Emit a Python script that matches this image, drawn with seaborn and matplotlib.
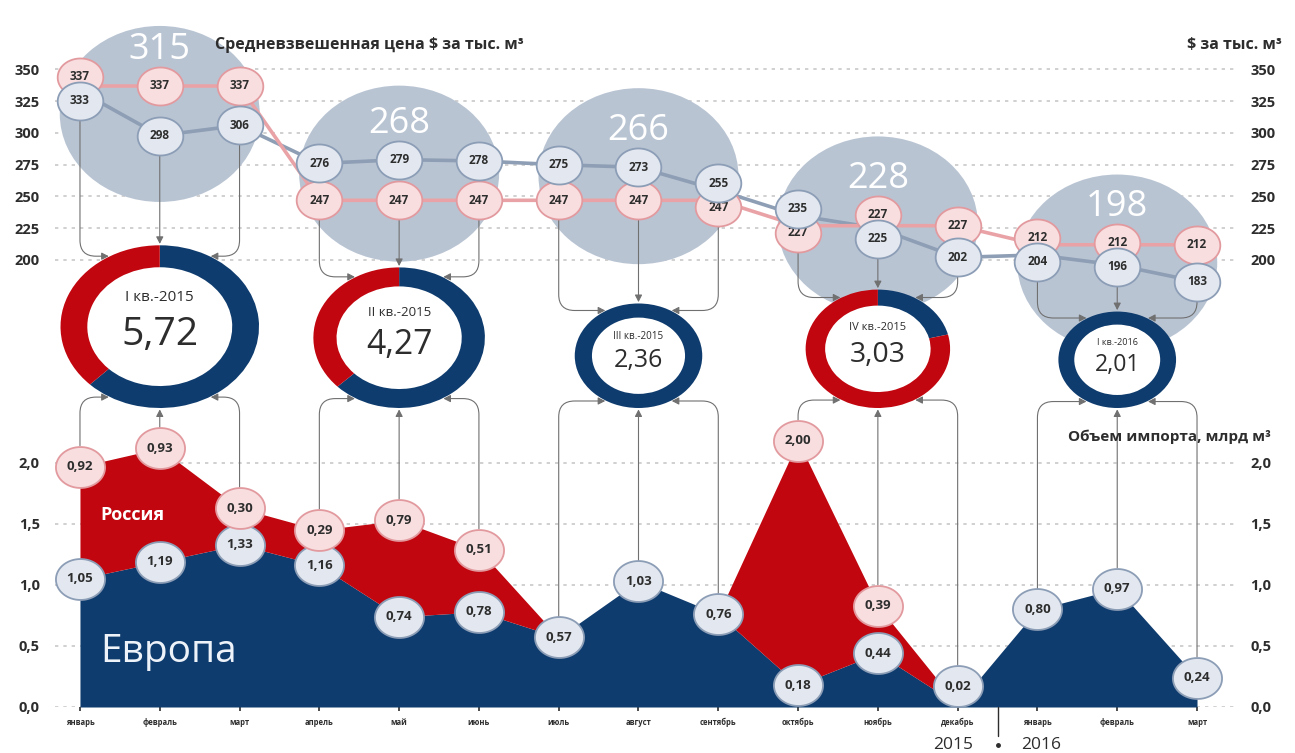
import numpy as np
import pandas as pd
import matplotlib
matplotlib.use("Agg")
import matplotlib.pyplot as plt
import seaborn as sns
from matplotlib.patches import Ellipse, Circle
from matplotlib.path import Path
from matplotlib.transforms import ScaledTranslation

# ---------------- data ----------------
months = ["январь", "февраль", "март", "апрель", "май", "июнь", "июль",
          "август", "сентябрь", "октябрь", "ноябрь", "декабрь",
          "январь", "февраль", "март"]
europe_volume = [1.05, 1.19, 1.33, 1.16, 0.74, 0.78, 0.57, 1.03, 0.76,
                 0.18, 0.44, 0.02, 0.80, 0.97, 0.24]
russia_volume = [0.92, 0.93, 0.30, 0.29, 0.79, 0.51, 0.0, 0.0, 0.0,
                 2.00, 0.39, 0.0, 0.0, 0.0, 0.0]
europe_price = [333, 298, 306, 276, 279, 278, 275, 273, 255,
                235, 225, 202, 204, 196, 183]
russia_price = [337, 337, 337, 247, 247, 247, 247, 247, 247,
                227, 227, 227, 212, 212, 212]
quarter_names = ["I кв.-2015", "II кв.-2015", "III кв.-2015",
                 "IV кв.-2015", "I кв.-2016"]
quarter_avg_price = [315, 268, 266, 228, 198]
volume_ticks = [0.0, 0.5, 1.0, 1.5, 2.0]
price_ticks = [200, 225, 250, 275, 300, 325, 350]

# ---------------- colours ----------------
NAVY = "#0f3c6e"
RED = "#c1060f"
PINK_FILL = "#f8dedf"
PINK_EDGE = "#e29a9f"
BLUE_FILL = "#e3e8f0"
BLUE_EDGE = "#8c9db6"
BUBBLE = "#b9c4d3"
EU_LINE = "#8e9eb4"
RU_LINE = "#e9a3a7"
GRID = "#c8c8c8"
TEXT = "#2d2d2d"
CONN = "#707070"

sns.set_theme(style="white")
plt.rcParams["font.family"] = ["Open Sans", "DejaVu Sans"]

W, H = 1295, 753
fig = plt.figure(figsize=(W / 100, H / 100), dpi=100)
fig.patch.set_facecolor("white")


def fx(px):
    return px / W


def fy(py):
    return 1 - py / H


def fmt(v, nd=2):
    return f"{v:.{nd}f}".replace(".", ",")


def shifted(ax, dy_px):
    """Data transform nudged vertically by dy_px screen pixels."""
    return ax.transData + ScaledTranslation(0, dy_px / fig.dpi, fig.dpi_scale_trans)


x = np.arange(len(months))
eu_v = np.array(europe_volume)
ru_v = np.array(russia_volume)
top_v = eu_v + ru_v
eu_p = np.array(europe_price)
ru_p = np.array(russia_price)

# ---------------- axes ----------------
ax_vol = fig.add_axes([fx(55), fy(707), (1235 - 55) / W, (707 - 408) / H])
ax_price = fig.add_axes([fx(55), fy(300), (1235 - 55) / W, (300 - 15) / H])
for ax in (ax_vol, ax_price):
    ax.set_facecolor("none")
    ax.set_xlim(-0.313, 14.476)
    for s in ax.spines.values():
        s.set_visible(False)
ax_vol.set_ylim(0, 2.45)
ax_price.set_ylim(168.5, 392.9)

# pixel scales of the two axes
px_month = ax_vol.transData.transform((1, 0))[0] - ax_vol.transData.transform((0, 0))[0]
px_vol = ax_vol.transData.transform((0, 1))[1] - ax_vol.transData.transform((0, 0))[1]
px_price = ax_price.transData.transform((0, 1))[1] - ax_price.transData.transform((0, 0))[1]

# slightly flattened circle used as a badge marker
t = np.linspace(0, 2 * np.pi, 90)
oval = Path(np.column_stack([1.2 * np.cos(t), np.sin(t)]), closed=True)
BADGE_HALF_H = 19  # px


def badge(ax, xi, yi, text, fill, edge, size, fs, dy=0.0, z=5):
    tr = shifted(ax, dy)
    ax.scatter([xi], [yi], marker=oval, s=size, facecolor=fill,
               edgecolor=edge, linewidth=1.3, zorder=z, clip_on=False,
               transform=tr)
    ax.text(xi, yi, text, ha="center", va="center", fontsize=fs,
            fontweight="bold", color=TEXT, zorder=z + 0.5, transform=tr)


def style_ticks(ax):
    for tk in ax.yaxis.get_major_ticks():
        tk.label1.set_fontweight("bold")
        tk.label2.set_fontweight("bold")


# ---------------- volume panel ----------------
ax_vol.fill_between(x, 0, eu_v, color=NAVY, lw=0, zorder=2)
ax_vol.fill_between(x, eu_v, top_v, color=RED, lw=0, zorder=2)

ax_vol.set_yticks(volume_ticks)
ax_vol.set_yticklabels([fmt(v, 1) for v in volume_ticks])
ax_vol.yaxis.grid(True, linestyle=(0, (2, 3)), color=GRID, lw=1.2)
ax_vol.xaxis.grid(False)
ax_vol.set_axisbelow(True)
ax_vol.tick_params(axis="y", left=False, right=False, labelleft=True,
                   labelright=True, pad=5, labelsize=10.5, labelcolor=TEXT)
style_ticks(ax_vol)
ax_vol.set_xticks(x)
ax_vol.set_xticklabels(months, fontsize=5.5, fontweight="bold", color=TEXT)
ax_vol.tick_params(axis="x", bottom=True, length=3, width=1.2,
                   color=TEXT, pad=5, direction="out")

# keep badges clear of the baseline
eu_dy = np.clip(21 - eu_v * px_vol, 0, None)
for i in x:
    badge(ax_vol, i, eu_v[i], fmt(eu_v[i]), BLUE_FILL, BLUE_EDGE, 1250, 9.5, eu_dy[i])
    if ru_v[i] > 0:
        badge(ax_vol, i, top_v[i], fmt(ru_v[i]), PINK_FILL, PINK_EDGE, 1250, 9.5)

ax_vol.text(0.25, 1.57, "Россия", ha="left", va="center", fontsize=13,
            fontweight="bold", color="white", zorder=3)
ax_vol.text(0.25, 0.45, "Европа", ha="left", va="center", fontsize=28,
            color="#eef3fa", zorder=3)
ax_vol.text(1.03, 0.903, "Объем импорта, млрд м³", transform=ax_vol.transAxes,
            ha="right", va="center", fontsize=11, fontweight="bold",
            color=TEXT, zorder=3)

# year divider
ax_vol.plot([11.5, 11.5], [0, -0.24], color=TEXT, lw=1, clip_on=False)
ax_vol.plot([11.5], [-0.31], "o", color=TEXT, ms=2.5, clip_on=False)
ax_vol.text(11.2, -0.31, "2015", ha="right", va="center", fontsize=12.5, color=TEXT)
ax_vol.text(11.8, -0.31, "2016", ha="left", va="center", fontsize=12.5, color=TEXT)

# ---------------- price panel ----------------
ax_price.set_yticks(price_ticks)
ax_price.set_yticklabels([str(v) for v in price_ticks])
ax_price.yaxis.grid(True, linestyle=(0, (2, 3)), color=GRID, lw=1.2)
ax_price.xaxis.grid(False)
ax_price.set_axisbelow(True)
ax_price.set_xticks([])
ax_price.tick_params(axis="y", left=False, right=False, labelleft=True,
                     labelright=True, pad=5, labelsize=10.5, labelcolor=TEXT)
style_ticks(ax_price)

# badges of close prices are pushed apart so both stay legible
MIN_SEP = 24
push = np.clip((MIN_SEP - np.abs(eu_p - ru_p) * px_price) / 2, 0, None)
eu_pdy = np.where(eu_p >= ru_p, push, -push)
ru_pdy = -eu_pdy

# quarterly average bubbles, centred on the average price
BUB_W, BUB_H = 200, 176  # px
for q, avg in enumerate(quarter_avg_price):
    m = 3 * q + 1
    ell = Ellipse((m, avg), BUB_W / px_month, BUB_H / px_price,
                  facecolor=BUBBLE, edgecolor="none", zorder=1, clip_on=False)
    ax_price.add_patch(ell)
    # label sits just above the badges of the quarter's middle month
    badge_top = max((eu_p[m] - avg) * px_price + eu_pdy[m],
                    (ru_p[m] - avg) * px_price + ru_pdy[m])
    lift_px = badge_top + BADGE_HALF_H + 17
    ax_price.annotate(str(avg), (m, avg), xytext=(0, lift_px * 72 / fig.dpi),
                      textcoords="offset points", ha="center", va="center",
                      fontsize=26, color="white", zorder=1.5)

df_price = pd.DataFrame({"month": np.concatenate([x, x]),
                         "price": np.concatenate([eu_p, ru_p]),
                         "series": ["Европа"] * len(x) + ["Россия"] * len(x)})
sns.lineplot(data=df_price, x="month", y="price", hue="series",
             palette={"Европа": EU_LINE, "Россия": RU_LINE}, lw=2.6,
             ax=ax_price, zorder=3, legend=False)
ax_price.set_xlabel("")
ax_price.set_ylabel("")

for i in x:
    badge(ax_price, i, ru_p[i], str(ru_p[i]), PINK_FILL, PINK_EDGE, 1080, 8.5, ru_pdy[i], z=4)
    badge(ax_price, i, eu_p[i], str(eu_p[i]), BLUE_FILL, BLUE_EDGE, 1080, 8.5, eu_pdy[i], z=5)

fig.text(fx(215), fy(45), "Средневзвешенная цена $ за тыс. м³", ha="left",
         va="center", fontsize=11.5, fontweight="bold", color=TEXT)
fig.text(fx(1282), fy(45), "$ за тыс. м³", ha="right", va="center",
         fontsize=11.5, fontweight="bold", color=TEXT)

# ---------------- quarterly donuts ----------------
arrow = "-|>,head_length=0.35,head_width=0.18"
for q in range(5):
    idx = slice(3 * q, 3 * q + 3)
    eu_q = eu_v[idx].sum()
    ru_q = ru_v[idx].sum()
    total = eu_q + ru_q
    m = 3 * q + 1
    cx = ax_vol.transData.transform((m, 0))[0]
    d_px = 83 * np.sqrt(total)
    h_px = d_px / 1.22
    dax = fig.add_axes([(cx - d_px / 2) / W, fy(408), d_px / W, h_px / H])
    dax.pie([eu_q, ru_q], colors=[NAVY, RED], startangle=90,
            counterclock=False, radius=1,
            wedgeprops=dict(width=0.27, linewidth=0))
    dax.add_patch(Circle((0, 0), 0.735, facecolor="white", edgecolor="none", zorder=0.5))
    dax.set_xlim(-1, 1)
    dax.set_ylim(-1, 1)
    dax.set_aspect("auto")
    dax.set_facecolor("none")
    dax.axis("off")
    sc = d_px / 198
    dax.text(0, 0.36, quarter_names[q], ha="center", va="center",
             fontsize=11 * sc, color=TEXT, zorder=3)
    dax.text(0, -0.1, fmt(total), ha="center", va="center",
             fontsize=28 * sc, color=TEXT, zorder=3)

    # connectors from the monthly badges to the donut
    for j in range(3):
        i = 3 * q + j
        ang_b = np.radians([240, 270, 300][j])
        ang_t = np.radians([120, 90, 60][j])
        if j == 1:
            style_b = style_t = "arc3,rad=0"
        else:
            style_b = "angle,angleA=90,angleB=0,rad=16"
            style_t = "angle,angleA=-90,angleB=0,rad=16"
        v_top = top_v[i] if ru_v[i] > 0 else eu_v[i]
        v_dy = 0 if ru_v[i] > 0 else eu_dy[i]
        ax_vol.annotate("", xy=(np.cos(ang_b), np.sin(ang_b)),
                        xycoords=dax.transData, xytext=(i, v_top),
                        textcoords=shifted(ax_vol, v_dy), zorder=1.8,
                        arrowprops=dict(arrowstyle=arrow, color=CONN, lw=0.8,
                                        connectionstyle=style_b,
                                        shrinkA=15, shrinkB=1))
        low_is_eu = eu_p[i] <= ru_p[i]
        p_low = eu_p[i] if low_is_eu else ru_p[i]
        p_dy = eu_pdy[i] if low_is_eu else ru_pdy[i]
        ax_price.annotate("", xy=(np.cos(ang_t), np.sin(ang_t)),
                          xycoords=dax.transData, xytext=(i, p_low),
                          textcoords=shifted(ax_price, p_dy), zorder=2,
                          arrowprops=dict(arrowstyle=arrow, color=CONN, lw=0.8,
                                          connectionstyle=style_t,
                                          shrinkA=14, shrinkB=1))

fig.savefig("out.png", dpi=100, facecolor="white")
